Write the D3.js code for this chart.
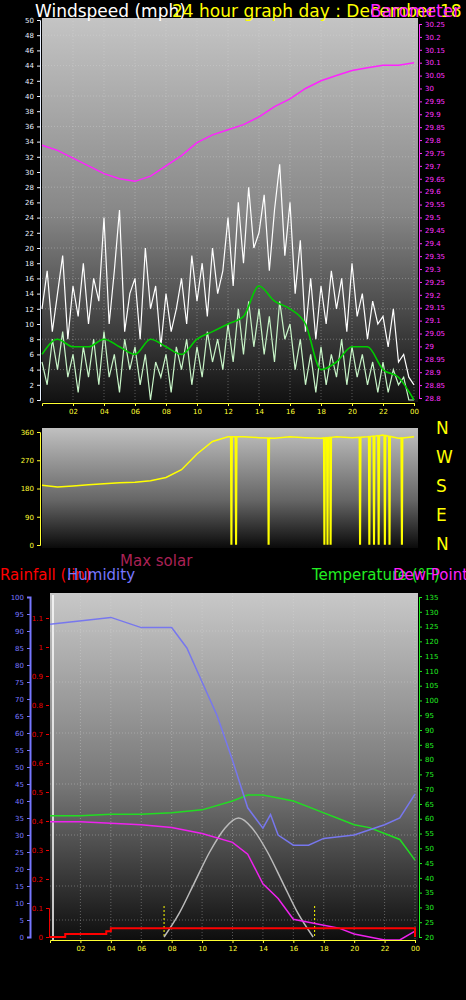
<!DOCTYPE html><html><head><meta charset="utf-8"><script src="https://cdn.jsdelivr.net/npm/d3@7"></script>
<style>body{margin:0;background:#000}svg{display:block}text{font-family:"DejaVu Sans",sans-serif}</style></head><body>
<script>
const hourTicks=["02","04","06","08","10","12","14","16","18","20","22","00"];
const pressure=[29.78,29.76,29.73,29.70,29.67,29.65,29.64,29.66,29.70,29.74,29.79,29.82,29.84,29.86,29.89,29.93,29.96,30.00,30.03,30.05,30.07,30.08,30.09,30.09,30.10];
const gust=[12,17,9,14,19,8,15,11,18,10,16,13,24,10,17,25,9,14,16,8,20,12,15,7,14,9,12,16,10,19,13,18,11,20,14,17,24,15,26,18,28,20,22,27,17,25,31,19,26,14,21,9,16,8,15,10,17,12,16,9,18,11,14,8,13,10,11,7,12,5,6,3,2];
const speed=[5,2,8,4,9,3,6,1,7,3,8,2,9,3,6,1,8,4,7,2,6,0,5,3,6,1,7,4,8,2,7,3,9,5,8,4,10,5,12,6,13,7,12,6,11,5,13,8,10,4,8,2,6,1,7,2,6,3,8,2,7,3,6,2,5,1,5,1,4,2,3,0,0];
const avgWind=[6,8,7,7,8,7,6,8,7,6,8,9,10,11,15,13,12,10,4,5,7,7,4,3,0];
const dirBase=[190,185,188,192,195,198,200,205,215,240,290,330,345,345,342,340,345,342,340,345,342,345,350,340,345];
const dirDrops=[12.2,12.5,14.6,18.2,18.4,18.6,20.5,21.1,21.4,21.7,22.1,22.4,23.0,23.2];
const humHours=[0,4,6,8,9,10,11,12,12.5,13,13.5,14,14.5,15,16,17,18,20,22,23,24];
const humidity=[92,94,91,91,85,75,65,52,45,38,35,32,36,30,27,27,29,30,33,35,42];
const tdHours=[0,2,4,6,8,10,12,13,14,15,16,17,18,19,20,21,22,23,24];
const temperature=[61,61,61.5,61.5,62,63,66,68,68,67,66,64,62,60,58,57,55,53,46];
const dewpoint=[59,59,58.5,58,57,55,52,48,38,33,26,25,24,23,21,20,19,19,22];
const rainHours=[0,1,3.7,4,23.9,24];
const rain=[0,0.01,0.02,0.03,0.03,0];
const solarHours=[7.5,8.5,9.5,10.5,11.5,12.4,13.3,14.3,15.3,16.3,17.3];
const solar=[0,70,160,250,320,350,320,250,160,70,0];
const sunEvents=[7.5,17.4];
const compass=["N","W","S","E","N"];

const W=466,H=1000;
const svg=d3.select("body").append("svg").attr("width",W).attr("height",H);
const defs=svg.append("defs");
function grad(id,stops){const g=defs.append("linearGradient").attr("id",id).attr("x1",0).attr("y1",0).attr("x2",0).attr("y2",1);stops.forEach(s=>g.append("stop").attr("offset",s[0]).attr("stop-color",s[1]));}
grad("g1",[[0,"#c4c4c4"],[0.5,"#888"],[1,"#111"]]);
grad("g2",[[0,"#c0c0c0"],[0.6,"#666"],[1,"#0a0a0a"]]);
grad("g3",[[0,"#c8c8c8"],[0.55,"#777"],[1,"#0d0d0d"]]);

function styleAxis(g,col,fs){g.selectAll("path").attr("stroke",col);g.selectAll("line").attr("stroke",col);g.selectAll("text").attr("fill",col).style("font-size",fs+"px");}
function grid(x,y,yt,x0,x1,y0,y1){
  const g=svg.append("g").attr("stroke","#ddd").attr("stroke-opacity",0.35).attr("stroke-dasharray","1,2");
  d3.range(2,25,2).forEach(h=>g.append("line").attr("x1",x(h)).attr("x2",x(h)).attr("y1",y0).attr("y2",y1));
  yt.forEach(v=>g.append("line").attr("x1",x0).attr("x2",x1).attr("y1",y(v)).attr("y2",y(v)));
}
const lineH=(x,y)=>d3.line().x(d=>x(d[0])).y(d=>y(d[1]));
const even=(arr)=>arr.map((v,i)=>[i*24/(arr.length-1),v]);

// ---- Panel 1
const x1=d3.scaleLinear([0,24],[42,414]);
const yW=d3.scaleLinear([0,50],[400,20]);
const yP=d3.scaleLinear([28.8,30.25],[398,24]);
svg.append("rect").attr("x",42).attr("y",18).attr("width",376).attr("height",384).attr("fill","url(#g1)");
grid(x1,yW,d3.range(4,50,4),42,418,18,402);
svg.append("path").datum(pressure.map((v,i)=>[i,v])).attr("d",lineH(x1,yP)).attr("fill","none").attr("stroke","#ff22ff").attr("stroke-width",1.5);
svg.append("path").datum(even(gust)).attr("d",lineH(x1,yW)).attr("fill","none").attr("stroke","#fff").attr("stroke-width",1.2);
svg.append("path").datum(even(speed)).attr("d",lineH(x1,yW)).attr("fill","none").attr("stroke","#c8f5c8").attr("stroke-width",1.2);
svg.append("path").datum(avgWind.map((v,i)=>[i,v])).attr("d",lineH(x1,yW).curve(d3.curveMonotoneX)).attr("fill","none").attr("stroke","#00cc00").attr("stroke-width",1.6);
styleAxis(svg.append("g").attr("transform","translate(40,0)").call(d3.axisLeft(yW).tickValues(d3.range(0,51,2)).tickSize(3)),"#e8f0ff",7);
styleAxis(svg.append("g").attr("transform","translate(419,0)").call(d3.axisRight(yP).tickValues(d3.range(28.8,30.26,0.05).map(v=>+v.toFixed(2))).tickSize(3).tickFormat(d=>d3.format("")(+d.toFixed(2)))),"#ff33ff",7);
styleAxis(svg.append("g").attr("transform","translate(0,403)").call(d3.axisBottom(x1).tickValues(d3.range(2,25,2)).tickSize(3).tickFormat((d,i)=>hourTicks[i])),"#ffff33",7);

// ---- Panel 2
const yD=d3.scaleLinear([0,360],[545,432]);
svg.append("rect").attr("x",42).attr("y",428).attr("width",376).attr("height",120).attr("fill","url(#g2)");
const dirPts=[];
dirBase.forEach((v,i)=>{dirPts.push([i,v]);dirDrops.filter(h=>h>i&&h<i+1).forEach(h=>{const b=v+(dirBase[i+1]-v)*(h-i);dirPts.push([h-0.03,b],[h,3],[h+0.04,3],[h+0.07,b]);});});
dirPts.sort((a,b)=>a[0]-b[0]);
svg.append("path").datum(dirPts).attr("d",lineH(x1,yD)).attr("fill","none").attr("stroke","#ffff00").attr("stroke-width",1.5);
styleAxis(svg.append("g").attr("transform","translate(40,0)").call(d3.axisLeft(yD).tickValues([0,90,180,270,360]).tickSize(3)),"#ffff33",7);
compass.forEach((c,i)=>svg.append("text").attr("x",436).attr("y",434+i*29).attr("fill","#ffff00").style("font-size","17px").text(c));

// ---- Panel 3
const x3=d3.scaleLinear([0,24],[50,415]);
const yH=d3.scaleLinear([0,100],[937,597]);
const yR=d3.scaleLinear([0,0.1],[937,908]);
const yT=d3.scaleLinear([20,135],[937,597]);
const yS=d3.scaleLinear([0,1000],[937,597]);
svg.append("rect").attr("x",50).attr("y",593).attr("width",368).attr("height",348).attr("fill","url(#g3)");
svg.append("line").attr("x1",53).attr("x2",53).attr("y1",595).attr("y2",940).attr("stroke","#fff").attr("stroke-width",1.5);
grid(x3,yH,d3.range(5,100,5).filter(v=>v%15==0||v==5),50,418,593,940);
sunEvents.forEach(h=>svg.append("line").attr("x1",x3(h)).attr("x2",x3(h)).attr("y1",906).attr("y2",937).attr("stroke","#ffff00").attr("stroke-dasharray","2,2"));
svg.append("path").datum(solarHours.map((h,i)=>[h,solar[i]])).attr("d",lineH(x3,yS).curve(d3.curveCardinal)).attr("fill","none").attr("stroke","#bbb").attr("stroke-width",1.5);
svg.append("path").datum(tdHours.map((h,i)=>[h,temperature[i]])).attr("d",lineH(x3,yT)).attr("fill","none").attr("stroke","#22dd22").attr("stroke-width",1.5);
svg.append("path").datum(humHours.map((h,i)=>[h,humidity[i]])).attr("d",lineH(x3,yH)).attr("fill","none").attr("stroke","#7777ee").attr("stroke-width",1.5);
svg.append("path").datum(tdHours.map((h,i)=>[h,dewpoint[i]])).attr("d",lineH(x3,yT)).attr("fill","none").attr("stroke","#ee22ee").attr("stroke-width",1.5);
svg.append("path").datum(rainHours.map((h,i)=>[h,rain[i]])).attr("d",lineH(x3,yR).curve(d3.curveStepAfter)).attr("fill","none").attr("stroke","#ff0000").attr("stroke-width",2);
const ha=svg.append("g").attr("transform","translate(30,0)").call(d3.axisLeft(yH).tickValues(d3.range(0,101,5)).tickSize(3));
styleAxis(ha,"#7777ff",7);ha.select("path").attr("stroke-width",2);
styleAxis(svg.append("g").attr("transform","translate(49,0)").call(d3.axisLeft(yR).tickValues(d3.range(0,12).map(i=>i/10)).tickSize(3).tickFormat(d=>d==0?"0":d3.format("")(+d.toFixed(1)))),"#ee0000",7);
styleAxis(svg.append("g").attr("transform","translate(419,0)").call(d3.axisRight(yT).tickValues(d3.range(20,136,5)).tickSize(3)),"#22ee22",7);
styleAxis(svg.append("g").attr("transform","translate(0,940)").call(d3.axisBottom(x3).tickValues(d3.range(2,25,2)).tickSize(3).tickFormat((d,i)=>hourTicks[i])),"#ffff33",7);

// ---- Titles
const t=(x,y,c,s,txt)=>svg.append("text").attr("x",x).attr("y",y).attr("fill",c).style("font-size",s+"px").text(txt);
t(35,17,"#fff",17,"Windspeed (mph)");
t(172,17,"#ffff00",17,"24 hour graph day : December 18 2");
t(370,17,"#ff22ff",17,"Barometer");
t(120,566,"#aa2255",15,"Max solar");
t(0,580,"#ff0000",15,"Rainfall (.in)");
t(67,580,"#7777ff",15,"Humidity");
t(312,580,"#22ee22",15,"Temperature (°F)");
t(393,580,"#ff22ff",15,"Dew Point");
</script></body></html>
